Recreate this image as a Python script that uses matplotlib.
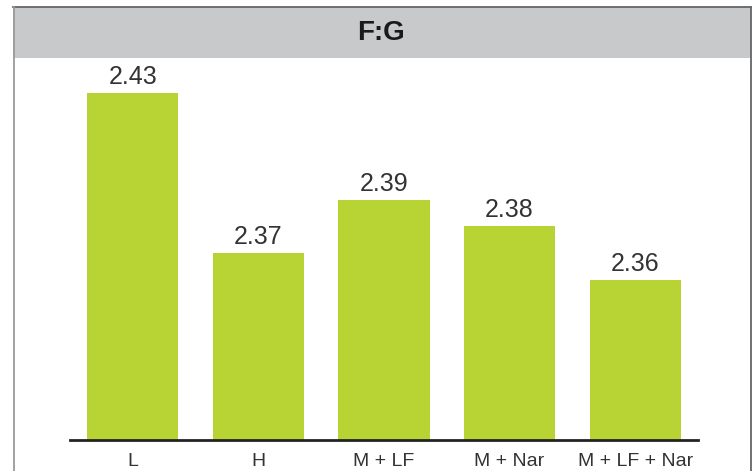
import matplotlib.pyplot as plt
from matplotlib.lines import Line2D
from matplotlib.patches import Rectangle

# Datos del gráfico
categorias = ["L", "H", "M + LF", "M + Nar", "M + LF + Nar"]
valores = [2.43, 2.37, 2.39, 2.38, 2.36]
titulo = "F:G"

VERDE = "#b7d334"
GRIS_BANDA = "#c8c9cb"
FUENTE = ["Liberation Sans", "DejaVu Sans"]

W, H = 756, 471
fig = plt.figure(figsize=(W / 100, H / 100), dpi=100)


def fx(px):
    return px / W


def fy(py):
    return 1 - py / H


# Banda del título y marco
fig.patches.append(Rectangle((fx(13), fy(58)), fx(751) - fx(13), fy(7) - fy(58),
                             transform=fig.transFigure, facecolor=GRIS_BANDA,
                             edgecolor="none", zorder=0))
fig.lines.append(Line2D([fx(13), fx(751)], [fy(7), fy(7)], transform=fig.transFigure,
                        color="#666666", lw=1.3))
fig.lines.append(Line2D([fx(751), fx(751)], [fy(7), 0], transform=fig.transFigure,
                        color="#666666", lw=1.3))
fig.lines.append(Line2D([fx(13.5), fx(13.5)], [fy(7), 0], transform=fig.transFigure,
                        color="#9a9a9a", lw=1.3))
fig.text(fx(381), fy(33), titulo, ha="center", va="center", fontsize=20,
         fontweight="bold", family=FUENTE, color="#1a1a1a")

# Ejes del gráfico de barras
ax = fig.add_axes([fx(70), fy(440), fx(698) - fx(70), fy(58) - fy(440)])
x = range(len(categorias))
bars = ax.bar(x, valores, width=0.725, color=VERDE, zorder=2)

ymin = 2.30
escala = 2670.0  # píxeles por unidad
ax.set_ylim(ymin, ymin + (440 - 58) / escala)
ax.set_xlim(-0.5, 4.5)

for bar, v in zip(bars, valores):
    ax.annotate(f"{v:.2f}", (bar.get_x() + bar.get_width() / 2, v),
                xytext=(0, 3), textcoords="offset points", ha="center", va="bottom",
                fontsize=18, family=FUENTE, color="#333333", annotation_clip=False)

for s in ["top", "right", "left"]:
    ax.spines[s].set_visible(False)
ax.spines["bottom"].set_linewidth(2)
ax.spines["bottom"].set_color("#222222")
ax.set_yticks([])
ax.set_xticks(list(x))
ax.set_xticklabels(categorias, fontsize=14, family=FUENTE, color="#333333")
ax.tick_params(axis="x", length=0, pad=9)
ax.patch.set_alpha(0)

fig.savefig("out.png", dpi=100)
